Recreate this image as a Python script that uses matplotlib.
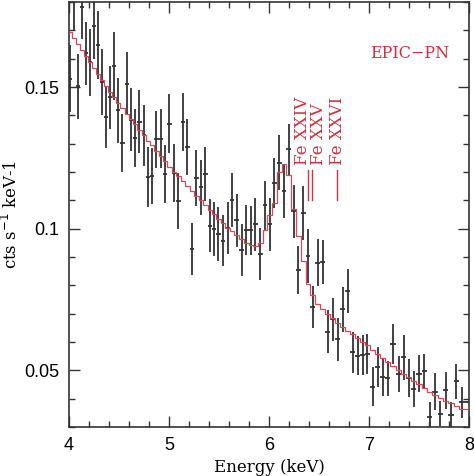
import numpy as np
import matplotlib.pyplot as plt
from matplotlib.ticker import MultipleLocator

# ==========================================
# Data
# ==========================================

energy = [4.01, 4.05, 4.09, 4.13, 4.17, 4.21, 4.25, 4.29, 4.33, 4.37,
          4.41, 4.453, 4.493, 4.533, 4.577, 4.617, 4.66, 4.703, 4.747, 4.79,
          4.83, 4.873, 4.917, 4.957, 5.003, 5.05, 5.093, 5.137, 5.18, 5.23,
          5.273, 5.317, 5.363, 5.407, 5.45, 5.493, 5.54, 5.587, 5.63, 5.677,
          5.73, 5.773, 5.817, 5.863, 5.913, 5.96, 6.007, 6.053, 6.103, 6.15,
          6.197, 6.247, 6.293, 6.343, 6.39, 6.437, 6.487, 6.537, 6.587, 6.637,
          6.687, 6.737, 6.787, 6.837, 6.887, 6.937, 6.98, 7.037, 7.087, 7.137,
          7.187, 7.24, 7.297, 7.347, 7.397, 7.447, 7.497, 7.553, 7.607, 7.657,
          7.713, 7.767, 7.817, 7.873, 7.93]

rate = [0.153, 0.181, 0.1502, 0.1783, 0.1619, 0.1587, 0.1714, 0.1648, 0.1517, 0.1394,
        0.1464, 0.1573, 0.1418, 0.1303, 0.1511, 0.1385, 0.1320, 0.1377, 0.1330, 0.1183,
        0.1187, 0.1315, 0.1318, 0.1194, 0.1371, 0.1196, 0.1099, 0.1376, 0.1289, 0.0929,
        0.1178, 0.1146, 0.1192, 0.1011, 0.0999, 0.0982, 0.0958, 0.1002, 0.1102, 0.1029,
        0.0924, 0.0996, 0.0994, 0.1015, 0.0911, 0.1083, 0.1015, 0.1160, 0.1233, 0.1133,
        0.1280, 0.1061, 0.0853, 0.1055, 0.0903, 0.0724, 0.0880, 0.0882, 0.0636, 0.0681,
        0.0610, 0.0716, 0.0780, 0.0564, 0.0552, 0.0554, 0.0558, 0.0443, 0.0511, 0.0478,
        0.0472, 0.0593, 0.0486, 0.0546, 0.0472, 0.0434, 0.0488, 0.0496, 0.0337, 0.0425,
        0.0347, 0.0429, 0.0344, 0.0461, 0.0387]

rate_err = [0.0118, 0.0110, 0.0114, 0.0115, 0.0111, 0.0117, 0.0115, 0.0120, 0.0117, 0.0111,
            0.0111, 0.0120, 0.0114, 0.0102, 0.0111, 0.0111, 0.0102, 0.0111, 0.0108, 0.0105,
            0.0099, 0.0102, 0.0105, 0.0102, 0.0105, 0.0102, 0.0099, 0.0102, 0.0099, 0.0092,
            0.0099, 0.0096, 0.0095, 0.0092, 0.0094, 0.0096, 0.0091, 0.0091, 0.0095, 0.0092,
            0.0092, 0.0088, 0.0086, 0.0095, 0.0091, 0.0087, 0.0093, 0.0088, 0.0096, 0.0094,
            0.0091, 0.0094, 0.0085, 0.0094, 0.0096, 0.0073, 0.0082, 0.0079, 0.0076, 0.0076,
            0.0076, 0.0079, 0.0079, 0.0073, 0.0070, 0.0070, 0.0072, 0.0070, 0.0070, 0.0067,
            0.0061, 0.0071, 0.0064, 0.0079, 0.0067, 0.0064, 0.0065, 0.0063, 0.0050, 0.0064,
            0.0045, 0.0064, 0.0045, 0.0061, 0.0056]

model = [0.1695, 0.1673, 0.1652, 0.1630, 0.1609, 0.1588, 0.1567, 0.1546, 0.1525, 0.1505,
         0.1484, 0.1463, 0.1443, 0.1425, 0.1405, 0.1387, 0.1368, 0.1349, 0.1330, 0.1311,
         0.1294, 0.1275, 0.1256, 0.1239, 0.1219, 0.1201, 0.1185, 0.1168, 0.1152, 0.1133,
         0.1117, 0.1100, 0.1083, 0.1067, 0.1051, 0.1035, 0.1019, 0.1004, 0.0991, 0.0977,
         0.0962, 0.0951, 0.0942, 0.0938, 0.0950, 0.0995, 0.1050, 0.1090, 0.1200, 0.1228,
         0.1190, 0.1070, 0.0975, 0.0885, 0.0805, 0.0765, 0.0735, 0.0716, 0.0700, 0.0684,
         0.0668, 0.0653, 0.0640, 0.0628, 0.0614, 0.0600, 0.0588, 0.0572, 0.0558, 0.0544,
         0.0531, 0.0516, 0.0500, 0.0487, 0.0475, 0.0463, 0.0451, 0.0437, 0.0425, 0.0414,
         0.0403, 0.0393, 0.0384, 0.0373, 0.0362]

line_names = ["Fe XXIV", "Fe XXV", "Fe XXVI"]
line_text_x = [6.33, 6.49, 6.68]
line_energy = [6.393, 6.427, 6.683]

# ==========================================
# Bin edges from the bin centres
# ==========================================

energy = np.array(energy)
mid = (energy[1:] + energy[:-1]) / 2
edges = np.concatenate([[4.0], mid, [8.0]])
xerr_lo = energy - edges[:-1]
xerr_hi = edges[1:] - energy

red = "#d2303f"
ink = "#333333"

# ==========================================
# Figure
# ==========================================

fig = plt.figure(figsize=(4.74, 4.76), dpi=100)
ax = fig.add_axes([0.1456, 0.1029, 0.8439, 0.8929])

ax.errorbar(energy, rate, yerr=rate_err, xerr=[xerr_lo, xerr_hi],
            fmt="none", ecolor=ink, elinewidth=1.3, capsize=0, zorder=2)

ax.stairs(model, edges, color="#d84858", linewidth=0.9, baseline=None, zorder=3)

ax.set_xlim(4, 8)
ax.set_ylim(0.03, 0.18)

ax.xaxis.set_major_locator(MultipleLocator(1))
ax.xaxis.set_minor_locator(MultipleLocator(0.2))
ax.yaxis.set_minor_locator(MultipleLocator(0.01))
ax.set_yticks([0.05, 0.1, 0.15])
ax.set_yticklabels(["0.05", "0.1", "0.15"])

ax.tick_params(which="both", direction="in", top=True, right=True,
               width=1.0, colors="#333333", labelcolor="black")
ax.tick_params(which="major", length=8, labelsize=13, pad=7)
ax.tick_params(which="minor", length=4.3)
for lbl in ax.get_xticklabels() + ax.get_yticklabels():
    lbl.set_family("Liberation Sans")

for s in ax.spines.values():
    s.set_linewidth(1.2)
    s.set_color("#333333")

ax.set_xlabel("Energy (keV)", family="DejaVu Serif", fontsize=12, labelpad=4)
ax.set_ylabel(r"cts s$^{-1}$ keV-1", family="DejaVu Serif", fontsize=12)
ax.yaxis.set_label_coords(-0.12, 0.5)

ax.text(7.41, 0.162, "EPIC\u2212PN", color=red, family="DejaVu Serif",
        fontsize=11.5, ha="center", va="center")

for name, tx, le in zip(line_names, line_text_x, line_energy):
    ax.text(tx, 0.1225, name, color=red, family="DejaVu Serif", fontsize=12,
            rotation=90, ha="center", va="bottom")
    ax.plot([le, le], [0.1102, 0.1207], color=red, linewidth=1.0)

fig.savefig("out.png", dpi=100)
